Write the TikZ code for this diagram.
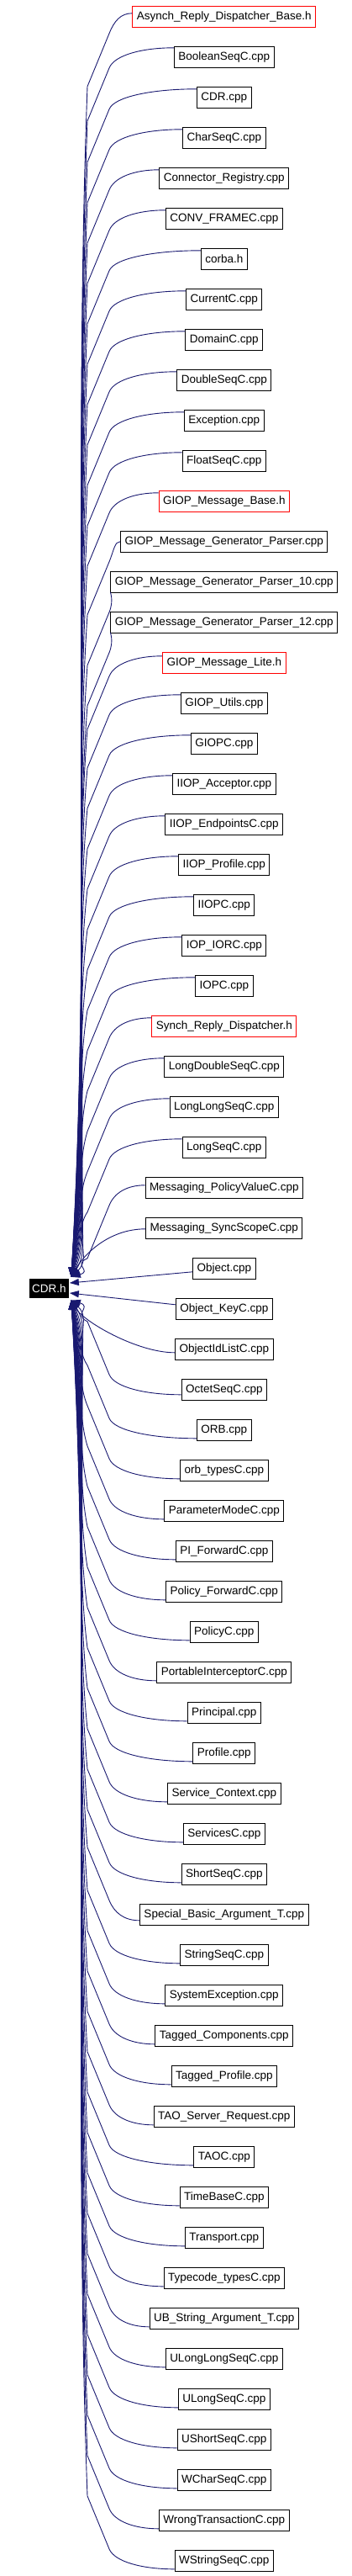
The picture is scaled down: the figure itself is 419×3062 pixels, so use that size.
\documentclass[tikz,border=0pt]{standalone}
\usepackage{fontspec}
\setmainfont{Liberation Sans}
\usepackage{tikz}
\usetikzlibrary{arrows.meta, calc}

\definecolor{edgeblue}{HTML}{191970}

\tikzset{
  file/.style={draw=black, line width=1pt, fill=white, font=\fontsize{13.5}{16}\selectfont,
    minimum height=25pt, inner xsep=5pt, inner ysep=0pt},
  src/.style={file},
  hdr/.style={file, draw=red},
  root/.style={fill=black, text=white, font=\fontsize{13.5}{16}\selectfont,
    minimum width=46.7pt, minimum height=23.3pt, inner sep=0pt},
  dep/.style={draw=edgeblue, line width=0.9pt, -{Triangle[length=11pt,width=8pt]}}
}

% name / label / style / start offset of the edge
\def\filelist{
  AsynchReplyDispatcherBase/Asynch\_Reply\_Dispatcher\_Base.h/hdr/4,
  BooleanSeqC/BooleanSeqC.cpp/src/11,
  CDRcpp/CDR.cpp/src/10,
  CharSeqC/CharSeqC.cpp/src/10,
  ConnectorRegistry/Connector\_Registry.cpp/src/10,
  CONVFRAMEC/CONV\_FRAMEC.cpp/src/10,
  corba/corba.h/src/10,
  CurrentC/CurrentC.cpp/src/10,
  DomainC/DomainC.cpp/src/10,
  DoubleSeqC/DoubleSeqC.cpp/src/10,
  Exception/Exception.cpp/src/10,
  FloatSeqC/FloatSeqC.cpp/src/10,
  GIOPMessageBase/GIOP\_Message\_Base.h/hdr/10,
  GIOPMsgGenParser/GIOP\_Message\_Generator\_Parser.cpp/src/0,
  GIOPMsgGenParserTen/GIOP\_Message\_Generator\_Parser\_10.cpp/src/-12,
  GIOPMsgGenParserTwelve/GIOP\_Message\_Generator\_Parser\_12.cpp/src/-12,
  GIOPMessageLite/GIOP\_Message\_Lite.h/hdr/8,
  GIOPUtils/GIOP\_Utils.cpp/src/10,
  GIOPC/GIOPC.cpp/src/10,
  IIOPAcceptor/IIOP\_Acceptor.cpp/src/10,
  IIOPEndpointsC/IIOP\_EndpointsC.cpp/src/10,
  IIOPProfile/IIOP\_Profile.cpp/src/10,
  IIOPC/IIOPC.cpp/src/10,
  IOPIORC/IOP\_IORC.cpp/src/10,
  IOPC/IOPC.cpp/src/10,
  SynchReplyDispatcher/Synch\_Reply\_Dispatcher.h/hdr/10,
  LongDoubleSeqC/LongDoubleSeqC.cpp/src/10,
  LongLongSeqC/LongLongSeqC.cpp/src/10,
  LongSeqC/LongSeqC.cpp/src/10,
  MessagingPolicyValueC/Messaging\_PolicyValueC.cpp/src/3,
  MessagingSyncScopeC/Messaging\_SyncScopeC.cpp/src/0,
  Object/Object.cpp/src/0,
  ObjectKeyC/Object\_KeyC.cpp/src/0,
  ObjectIdListC/ObjectIdListC.cpp/src/0,
  OctetSeqC/OctetSeqC.cpp/src/6,
  ORB/ORB.cpp/src/10,
  orbtypesC/orb\_typesC.cpp/src/10,
  ParameterModeC/ParameterModeC.cpp/src/10,
  PIForwardC/PI\_ForwardC.cpp/src/10,
  PolicyForwardC/Policy\_ForwardC.cpp/src/10,
  PolicyC/PolicyC.cpp/src/10,
  PortableInterceptorC/PortableInterceptorC.cpp/src/10,
  Principal/Principal.cpp/src/10,
  Profile/Profile.cpp/src/10,
  ServiceContext/Service\_Context.cpp/src/10,
  ServicesC/ServicesC.cpp/src/10,
  ShortSeqC/ShortSeqC.cpp/src/10,
  SpecialBasicArgument/Special\_Basic\_Argument\_T.cpp/src/7,
  StringSeqC/StringSeqC.cpp/src/10,
  SystemException/SystemException.cpp/src/10,
  TaggedComponents/Tagged\_Components.cpp/src/10,
  TaggedProfile/Tagged\_Profile.cpp/src/10,
  TAOServerRequest/TAO\_Server\_Request.cpp/src/10,
  TAOC/TAOC.cpp/src/10,
  TimeBaseC/TimeBaseC.cpp/src/10,
  Transport/Transport.cpp/src/10,
  TypecodetypesC/Typecode\_typesC.cpp/src/10,
  UBStringArgument/UB\_String\_Argument\_T.cpp/src/10,
  ULongLongSeqC/ULongLongSeqC.cpp/src/10,
  ULongSeqC/ULongSeqC.cpp/src/10,
  UShortSeqC/UShortSeqC.cpp/src/10,
  WCharSeqC/WCharSeqC.cpp/src/10,
  WrongTransactionC/WrongTransactionC.cpp/src/10,
  WStringSeqC/WStringSeqC.cpp/src/10}

\begin{document}
\begin{tikzpicture}[x=1pt, y=1pt]
  \useasboundingbox (0,0) rectangle (419,-3062);

  \node[root] (CDR) at (58.3,-1531.7) {CDR.h};
  \coordinate (uptip) at ([shift={(3,2)}]CDR.north east);
  \coordinate (lowtip) at ([shift={(3,-2)}]CDR.south east);

  %% files that include CDR.h
  \foreach \fname/\flabel/\fsty/\foff [count=\i] in \filelist {
    \node[\fsty] (\fname) at (266.8,{-19.8-48*(\i-1)}) {\flabel};
    \ifnum\i<31
      \draw[dep] let \p1=(\fname.west), \n2={\y1+\foff-87}, \n3={\n2+1517} in
        (\x1,\y1+\foff) .. controls ({\x1-0.5*(\x1-130pt)},\y1+\foff) and (136,\y1+\foff-9)
        .. (130,\y1+\foff-24) -- (104,\n2)
        .. controls (86,\n2-0.35*\n3) and (110,-1517+0.3*\n3) .. (uptip);
    \fi
    \ifnum\i>34
      \draw[dep] let \p1=(\fname.west), \n2={\y1-\foff+87}, \n3={-1546-\n2} in
        (\x1,\y1-\foff) .. controls ({\x1-0.5*(\x1-130pt)},\y1-\foff) and (136,\y1-\foff+9)
        .. (130,\y1-\foff+24) -- (104,\n2)
        .. controls (86,\n2+0.35*\n3) and (110,-1546-0.3*\n3) .. (lowtip);
    \fi
  }

  %% the four edges next to CDR.h
  \draw[dep] ([yshift=-1pt]MessagingSyncScopeC.west) .. controls +(-45,0) and +(14,25) .. (uptip);
  \draw[dep] ([yshift=-4pt]Object.west) -- ([shift={(1,6.7)}]CDR.east);
  \draw[dep] ([yshift=5pt]ObjectKeyC.west) -- ([shift={(1,-5.3)}]CDR.east);
  \draw[dep] ([yshift=-4pt]ObjectIdListC.west) .. controls +(-45,0) and +(14,-25) .. (lowtip);
\end{tikzpicture}
\end{document}
